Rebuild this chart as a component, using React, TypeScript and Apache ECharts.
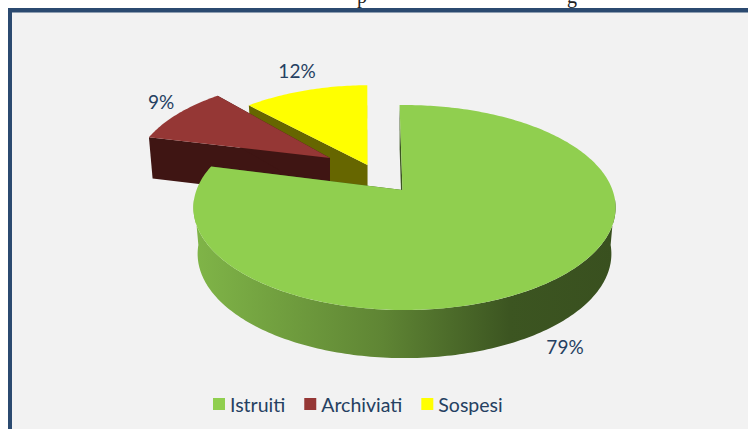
import React, { useEffect, useRef } from "react";
import * as echarts from "echarts";

const categories = ["Istruiti", "Archiviati", "Sospesi"];
const values = [79, 9, 12];
const topColors = ["#90cf4f", "#953735", "#ffff00"];
const wallColors = ["#3c5521", "#3f1513", "#666600"];
const labels = ["79%", "9%", "12%"];

const apexes = [
  { x: 402.5, y: 190, ox: 2, s: 1, d: 46, z: 4, lead: 0.5, trim: -1, lx: 565, ly: 346 },
  { x: 330, y: 158, ox: 2, s: 0.94, d: 41.5, z: 3, lead: 0, trim: -3, lx: 161, ly: 101 },
  { x: 367.5, y: 165, ox: 3, s: 0.94, d: 42, z: 2, lead: 0, trim: 0, lx: 297, ly: 70 },
];
const START = -1.1;
const RX = 208;
const RY = 99.5;
const K = 0.171;
const BOTTOM_X = 0.98;
const FRONT_FROM = 95;
const FRONT_TO = 265;

type P = [number, number];

function rim(a: (typeof apexes)[number], deg: number): P {
  const t = (deg * Math.PI) / 180;
  const u = Math.sin(t);
  const v = -Math.cos(t);
  const w = 1 - K * v;
  return [a.x + a.ox + (RX * a.s * u) / w, a.y + (RY * a.s * v) / w];
}
function low(a: (typeof apexes)[number], deg: number): P {
  const t = (deg * Math.PI) / 180;
  const v = -Math.cos(t);
  const p = rim(a, deg);
  return [a.x + a.ox + (p[0] - a.x - a.ox) * BOTTOM_X, p[1] + a.d / (1 - (K * v) / 4)];
}
function arcPts(f: (d: number) => P, from: number, to: number): P[] {
  const out: P[] = [];
  const n = Math.max(2, Math.ceil(Math.abs(to - from)));
  for (let i = 0; i <= n; i++) out.push(f(from + ((to - from) * i) / n));
  return out;
}

const greenWall = () =>
  new echarts.graphic.LinearGradient(
    193,
    0,
    615,
    0,
    [
      { offset: 0, color: "#80b548" },
      { offset: 0.45, color: "#5f8534" },
      { offset: 0.75, color: "#3c5521" },
      { offset: 1, color: "#39501f" },
    ],
    true
  );

function makeItem(index: number) {
  return (_params: any, api: any) => {
    const val = api.value(0) as number;
    const before = values.slice(0, index).reduce((s, x) => s + x, 0);
    const a = apexes[index];
    const a0 = START + (before / 100) * 360 - a.lead;
    const a1 = a0 + a.lead + (val / 100) * 360 - a.trim;
    const f = (d: number) => rim(a, d);
    const g = (d: number) => low(a, d);
    const apexLow: P = [a.x, a.y + a.d];
    const apex: P = [a.x, a.y];
    const children: any[] = [
      // cut faces
      {
        type: "polygon",
        shape: { points: [f(a0), apex, apexLow, g(a0)] },
        style: { fill: wallColors[index] },
      },
      {
        type: "polygon",
        shape: { points: [f(a1), apex, apexLow, g(a1)] },
        style: { fill: wallColors[index] },
      },
    ];
    // the part of the outer wall that faces the viewer
    const w0 = Math.max(a0, FRONT_FROM);
    const w1 = Math.min(a1, FRONT_TO);
    if (w1 > w0) {
      children.push({
        type: "polygon",
        shape: { points: [...arcPts(f, w0, w1), ...arcPts(g, w1, w0)] },
        style: { fill: greenWall() },
      });
    }
    children.push(
      {
        type: "polygon",
        shape: { points: [apex, ...arcPts(f, a0, a1)] },
        style: { fill: topColors[index] },
      },
      {
        type: "text",
        style: {
          text: labels[index],
          x: a.lx,
          y: a.ly,
          align: "center",
          verticalAlign: "middle",
          fill: "#254061",
          fontFamily: "Lato",
          fontSize: 19,
        },
      }
    );
    return { type: "group", children };
  };
}

export default function App() {
  const ref = useRef<HTMLDivElement>(null);
  useEffect(() => {
    const chart = echarts.init(ref.current!, null, { renderer: "svg" });
    chart.setOption({
      animation: false,
      backgroundColor: "#ffffff",
      graphic: [
        { type: "rect", z: 0, shape: { x: 8, y: 8, width: 740, height: 421 }, style: { fill: "#2b4a70" } },
        { type: "rect", z: 0, shape: { x: 12, y: 12.5, width: 736, height: 417 }, style: { fill: "#f2f2f2" } },
        { type: "text", z: 1, style: { text: "p", x: 362, y: 6, align: "center", verticalAlign: "bottom", fill: "#222222", fontFamily: "Liberation Serif", fontSize: 20 } },
        { type: "text", z: 1, style: { text: "g", x: 572, y: 6, align: "center", verticalAlign: "bottom", fill: "#222222", fontFamily: "Liberation Serif", fontSize: 20 } },
      ],
      legend: {
        data: categories,
        left: 213,
        top: 394,
        padding: 0,
        icon: "rect",
        itemWidth: 12,
        itemHeight: 12,
        itemGap: 19,
        textStyle: { color: "#254061", fontFamily: "Lato", fontSize: 19.5 },
      },
      series: categories.map((name, i) => ({
        type: "custom",
        name,
        coordinateSystem: "none",
        z: apexes[i].z,
        itemStyle: { color: topColors[i] },
        data: [values[i]],
        renderItem: makeItem(i),
      })),
    });
    return () => chart.dispose();
  }, []);
  return <div ref={ref} style={{ position: "fixed", left: 0, top: 0, width: 748, height: 429 }} />;
}
